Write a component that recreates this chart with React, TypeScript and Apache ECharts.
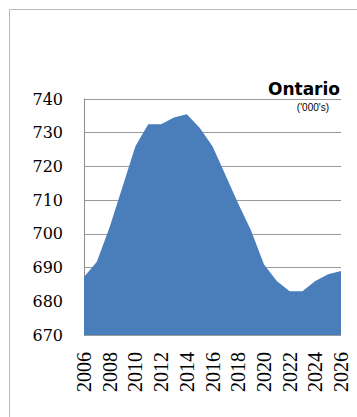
import React, { useEffect, useRef } from "react";
import * as echarts from "echarts";

// Ontario population series, thousands
const years = [
  "2006", "2007", "2008", "2009", "2010", "2011", "2012", "2013", "2014", "2015",
  "2016", "2017", "2018", "2019", "2020", "2021", "2022", "2023", "2024", "2025", "2026",
];
const values = [
  687.2, 691.7, 702, 714, 726, 732.5, 732.5, 734.5, 735.5, 731.5,
  726, 717.5, 709, 701, 691, 686, 683, 683, 686, 688, 689,
];
const yMin = 670;
const yMax = 740;
const yStep = 10;
const title = "Ontario";
const unitNote = "('000's)";

export default function App() {
  const ref = useRef<HTMLDivElement>(null);

  useEffect(() => {
    if (!ref.current) return;
    const chart = echarts.init(ref.current, null, { renderer: "svg" });
    chart.setOption({
      animation: false,
      backgroundColor: "#ffffff",
      grid: { left: 84, right: 16, top: 99, bottom: 82, containLabel: false },
      graphic: [
        {
          type: "rect",
          silent: true,
          shape: { x: 9.5, y: 9.5, width: 420, height: 520 },
          style: { fill: "none", stroke: "#b8b8b8", lineWidth: 1 },
        },
        {
          type: "text",
          right: 17,
          top: 80,
          style: {
            text: title,
            font: "bold 17px 'DejaVu Sans'",
            fill: "#000000",
          },
        },
        {
          type: "text",
          right: 28,
          top: 102,
          style: {
            text: unitNote,
            font: "10px 'Liberation Sans'",
            fill: "#000000",
          },
        },
      ],
      xAxis: {
        type: "category",
        data: years,
        boundaryGap: false,
        axisLine: { show: false },
        axisTick: { show: false },
        splitLine: { show: false },
        axisLabel: {
          interval: 1,
          rotate: 90,
          margin: 17,
          color: "#000000",
          fontFamily: "'Liberation Serif'",
          fontSize: 20,
        },
      },
      yAxis: {
        type: "value",
        min: yMin,
        max: yMax,
        interval: yStep,
        axisLine: { show: true, lineStyle: { color: "#8c8c8c", width: 1 } },
        axisTick: { show: false },
        splitLine: { show: true, lineStyle: { color: "#9a9a9a", width: 1 } },
        axisLabel: {
          margin: 21,
          color: "#000000",
          fontFamily: "'DejaVu Serif'",
          fontSize: 16,
        },
      },
      series: [
        {
          type: "line",
          data: values,
          symbol: "none",
          smooth: false,
          lineStyle: { width: 0 },
          areaStyle: { color: "#4a7ebb", opacity: 1 },
          itemStyle: { color: "#4a7ebb" },
        },
      ],
    });
    return () => chart.dispose();
  }, []);

  return (
    <div
      ref={ref}
      style={{ position: "fixed", left: 0, top: 0, width: 357, height: 417 }}
    />
  );
}
